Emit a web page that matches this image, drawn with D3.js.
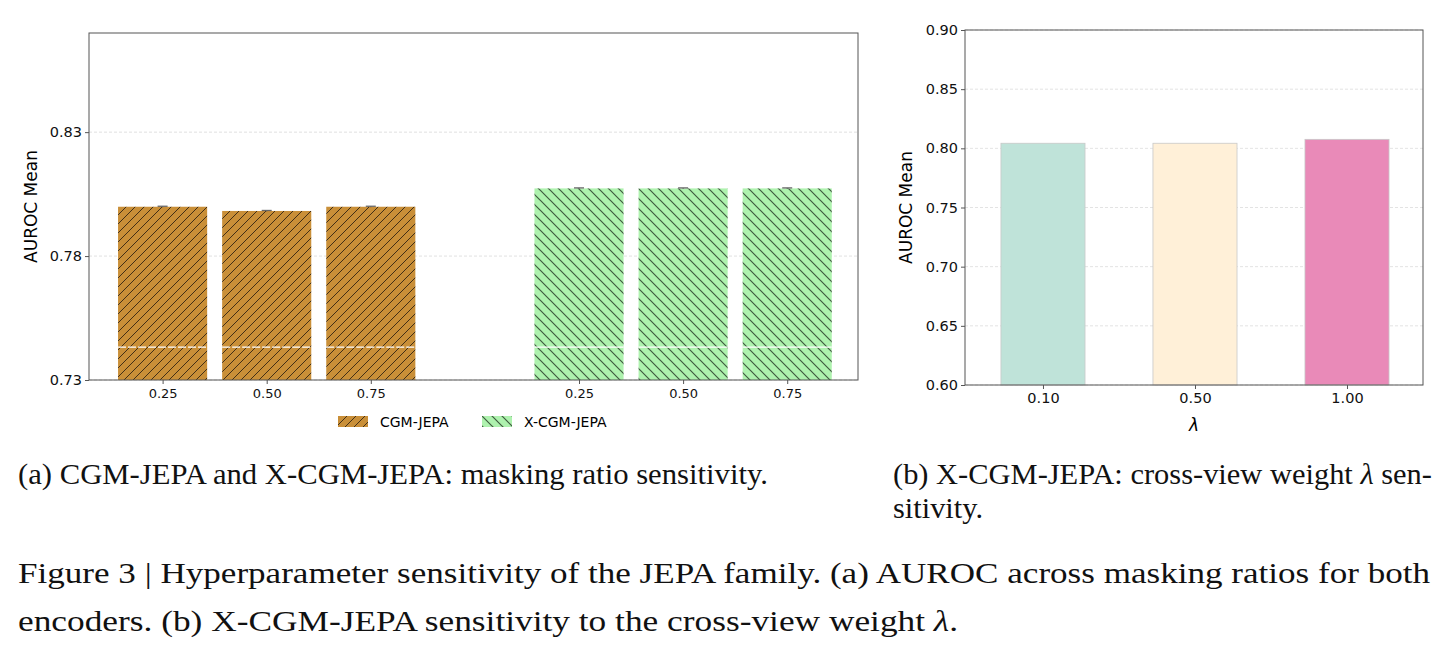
<!DOCTYPE html>
<html>
<head>
<meta charset="utf-8">
<script src="https://cdn.jsdelivr.net/npm/d3@7"></script>
<style>
  body { margin: 0; background: #fff; }
  svg { display: block; }
  .tick text { font-family: "DejaVu Sans", sans-serif; fill: #111; }
  .cap { font-family: "Liberation Serif", serif; fill: #111; }
</style>
</head>
<body>
<script>
// panel (a) data
var ratioLabels = ["0.25", "0.50", "0.75"];
var cgmMean = [0.7999, 0.7982, 0.7999];
var cgmStd = [0.0002, 0.0002, 0.0002];
var xcgmMean = [0.8073, 0.8073, 0.8073];
var xcgmStd = [0.0002, 0.0002, 0.0002];
var seriesNames = ["CGM-JEPA", "X-CGM-JEPA"];
var yTicksA = [0.73, 0.78, 0.83];

// panel (b) data
var lambdaLabels = ["0.10", "0.50", "1.00"];
var lambdaMean = [0.8043, 0.8043, 0.8076];
var yTicksB = [0.60, 0.65, 0.70, 0.75, 0.80, 0.85, 0.90];

var W = 1449, H = 652;
var svg = d3.select("body").append("svg")
    .attr("width", W)
    .attr("height", H);

// hatch patterns
var defs = svg.append("defs");
var p1 = defs.append("pattern")
    .attr("id", "hatchA")
    .attr("patternUnits", "userSpaceOnUse")
    .attr("width", 9).attr("height", 9);
p1.append("rect").attr("width", 9).attr("height", 9).attr("fill", "#c98f38");
p1.append("path")
    .attr("d", "M-1,1 l2,-2 M0,9 l9,-9 M8,10 l2,-2")
    .attr("stroke", "#2a1f10").attr("stroke-width", 1).attr("stroke-opacity", 0.85);

var p2 = defs.append("pattern")
    .attr("id", "hatchB")
    .attr("patternUnits", "userSpaceOnUse")
    .attr("width", 10).attr("height", 10);
p2.append("rect").attr("width", 10).attr("height", 10).attr("fill", "#aef2ae");
p2.append("path")
    .attr("d", "M-1,9 l2,2 M0,0 l10,10 M9,-1 l2,2")
    .attr("stroke", "#2c3f2c").attr("stroke-width", 1.2).attr("stroke-opacity", 0.85);

// ---------- panel (a) ----------
var ax = {left: 89, right: 858, top: 33, bottom: 380};
var xA = d3.scaleLinear().domain([-0.707, 6.68]).range([ax.left, ax.right]);
var yA = d3.scaleLinear().domain([0.73, 0.87]).range([ax.bottom, ax.top]);
var slot = xA(1) - xA(0);
var barWA = 0.856 * slot;

var gA = svg.append("g");

// grid
gA.selectAll(".grid").data(yTicksA).enter().append("line")
    .attr("x1", ax.left).attr("x2", ax.right)
    .attr("y1", yA).attr("y2", yA)
    .attr("stroke", "#d8d8d8").attr("stroke-width", 0.8)
    .attr("stroke-dasharray", "3,2");

var barsA = [];
cgmMean.forEach(function(v, i) {
  barsA.push({pos: i, label: ratioLabels[i], v: v, s: cgmStd[i], fill: "url(#hatchA)", dash: "8,2"});
});
xcgmMean.forEach(function(v, i) {
  barsA.push({pos: i + 4, label: ratioLabels[i], v: v, s: xcgmStd[i], fill: "url(#hatchB)", dash: null});
});

gA.selectAll(".bar").data(barsA).enter().append("rect")
    .attr("x", function(d) { return xA(d.pos) - barWA / 2; })
    .attr("width", barWA)
    .attr("y", function(d) { return yA(d.v); })
    .attr("height", function(d) { return yA(0.73) - yA(d.v); })
    .attr("fill", function(d) { return d.fill; });

// faint white seam seen across the bars
gA.selectAll(".seam").data(barsA).enter().append("line")
    .attr("x1", function(d) { return xA(d.pos) - barWA / 2; })
    .attr("x2", function(d) { return xA(d.pos) + barWA / 2; })
    .attr("y1", yA(0.7433)).attr("y2", yA(0.7433))
    .attr("stroke", "#fff").attr("stroke-width", 1.2)
    .attr("stroke-dasharray", function(d) { return d.dash; });

// error bars
var eb = gA.selectAll(".err").data(barsA).enter().append("g");
eb.append("line")
    .attr("x1", function(d) { return xA(d.pos); })
    .attr("x2", function(d) { return xA(d.pos); })
    .attr("y1", function(d) { return yA(d.v - d.s); })
    .attr("y2", function(d) { return yA(d.v + d.s); })
    .attr("stroke", "#555");
eb.append("line")
    .attr("x1", function(d) { return xA(d.pos) - 5; })
    .attr("x2", function(d) { return xA(d.pos) + 5; })
    .attr("y1", function(d) { return yA(d.v + d.s); })
    .attr("y2", function(d) { return yA(d.v + d.s); })
    .attr("stroke", "#666").attr("stroke-width", 1.3);

// frame
gA.append("rect")
    .attr("x", ax.left).attr("y", ax.top)
    .attr("width", ax.right - ax.left).attr("height", ax.bottom - ax.top)
    .attr("fill", "none").attr("stroke", "#555").attr("stroke-width", 1);

gA.append("g")
    .attr("transform", "translate(" + ax.left + ",0)")
    .call(d3.axisLeft(yA).tickValues(yTicksA).tickFormat(d3.format(".2f")).tickSize(4).tickPadding(3))
    .call(function(g) { g.select(".domain").remove(); })
    .call(function(g) {
      g.selectAll(".tick line").attr("stroke", "#555");
      g.selectAll(".tick text").style("font-size", "14.5px");
    });

gA.append("g")
    .attr("transform", "translate(0," + ax.bottom + ")")
    .call(d3.axisBottom(xA).tickValues(barsA.map(function(d) { return d.pos; }))
      .tickFormat(function(p) { return barsA.find(function(d) { return d.pos === p; }).label; })
      .tickSize(4).tickPadding(5))
    .call(function(g) { g.select(".domain").remove(); })
    .call(function(g) {
      g.selectAll(".tick line").attr("stroke", "#555");
      g.selectAll(".tick text").style("font-size", "13px");
    });

gA.append("text")
    .attr("transform", "translate(37," + (ax.top + ax.bottom) / 2 + ") rotate(-90)")
    .attr("text-anchor", "middle")
    .style("font-family", "DejaVu Sans, sans-serif")
    .style("font-size", "17px")
    .text("AUROC Mean");

// legend
var leg = gA.append("g").attr("transform", "translate(338,416)");
var legItems = leg.selectAll(".li").data(seriesNames).enter().append("g")
    .attr("transform", function(d, i) { return "translate(" + (i * 144) + ",0)"; });
legItems.append("rect")
    .attr("width", 30).attr("height", 11)
    .attr("fill", function(d, i) { return i === 0 ? "url(#hatchA)" : "url(#hatchB)"; });
legItems.append("text")
    .attr("x", 42).attr("y", 10.5)
    .style("font-family", "DejaVu Sans, sans-serif")
    .style("font-size", "14px")
    .text(function(d) { return d; });

// ---------- panel (b) ----------
var bx = {left: 965, right: 1423, top: 30, bottom: 385};
var xB = d3.scaleLinear().domain([-0.513, 2.5]).range([bx.left, bx.right]);
var yB = d3.scaleLinear().domain([0.6, 0.9]).range([bx.bottom, bx.top]);
var barWB = 0.553 * (xB(1) - xB(0));
var colorB = d3.scaleOrdinal().domain(lambdaLabels).range(["#bfe3d9", "#fff0d8", "#e98ab8"]);

var gB = svg.append("g");
gB.selectAll(".grid").data(yTicksB).enter().append("line")
    .attr("x1", bx.left).attr("x2", bx.right)
    .attr("y1", yB).attr("y2", yB)
    .attr("stroke", "#dcdcdc").attr("stroke-width", 0.8)
    .attr("stroke-dasharray", "3,2");

gB.selectAll(".bar").data(lambdaMean).enter().append("rect")
    .attr("x", function(d, i) { return xB(i) - barWB / 2; })
    .attr("width", barWB)
    .attr("y", function(d) { return yB(d); })
    .attr("height", function(d) { return yB(0.6) - yB(d); })
    .attr("fill", function(d, i) { return colorB(lambdaLabels[i]); })
    .attr("stroke", "#c8c8c8").attr("stroke-width", 0.8);

gB.append("rect")
    .attr("x", bx.left).attr("y", bx.top)
    .attr("width", bx.right - bx.left).attr("height", bx.bottom - bx.top)
    .attr("fill", "none").attr("stroke", "#555").attr("stroke-width", 1);

gB.append("g")
    .attr("transform", "translate(" + bx.left + ",0)")
    .call(d3.axisLeft(yB).tickValues(yTicksB).tickFormat(d3.format(".2f")).tickSize(4).tickPadding(3))
    .call(function(g) { g.select(".domain").remove(); })
    .call(function(g) {
      g.selectAll(".tick line").attr("stroke", "#555");
      g.selectAll(".tick text").style("font-size", "14.5px");
    });

gB.append("g")
    .attr("transform", "translate(0," + bx.bottom + ")")
    .call(d3.axisBottom(xB).tickValues([0, 1, 2]).tickFormat(function(i) { return lambdaLabels[i]; })
      .tickSize(4).tickPadding(4))
    .call(function(g) { g.select(".domain").remove(); })
    .call(function(g) {
      g.selectAll(".tick line").attr("stroke", "#555");
      g.selectAll(".tick text").style("font-size", "14.5px");
    });

gB.append("text")
    .attr("transform", "translate(912," + (bx.top + bx.bottom) / 2 + ") rotate(-90)")
    .attr("text-anchor", "middle")
    .style("font-family", "DejaVu Sans, sans-serif")
    .style("font-size", "17px")
    .text("AUROC Mean");

gB.append("text")
    .attr("x", (bx.left + bx.right) / 2).attr("y", 431)
    .attr("text-anchor", "middle")
    .style("font-family", "DejaVu Sans, sans-serif")
    .style("font-style", "italic")
    .style("font-size", "17px")
    .text("λ");

// ---------- captions ----------
// each line is split into parts; the lambda is set in italics
var captions = [
  {x: 18, y: 484, w: 750, t: ["(a) CGM-JEPA and X-CGM-JEPA: masking ratio sensitivity."]},
  {x: 893, y: 484, w: 539, t: ["(b) X-CGM-JEPA: cross-view weight ", "λ", " sen-"]},
  {x: 893, y: 518, w: 90, t: ["sitivity."]},
  {x: 18, y: 583, w: 1412, t: ["Figure 3 | Hyperparameter sensitivity of the JEPA family. (a) AUROC across masking ratios for both"]},
  {x: 18, y: 631, w: 940, t: ["encoders. (b) X-CGM-JEPA sensitivity to the cross-view weight ", "λ", "."]}
];
var capText = svg.selectAll(".cap").data(captions).enter().append("text")
    .attr("class", "cap")
    .attr("x", function(d) { return d.x; })
    .attr("y", function(d) { return d.y; })
    .attr("textLength", function(d) { return d.w; })
    .attr("lengthAdjust", "spacingAndGlyphs")
    .style("font-size", "29px");
capText.selectAll("tspan").data(function(d) { return d.t; }).enter().append("tspan")
    .style("font-style", function(s) { return s === "λ" ? "italic" : null; })
    .text(function(s) { return s; });
</script>
</body>
</html>
